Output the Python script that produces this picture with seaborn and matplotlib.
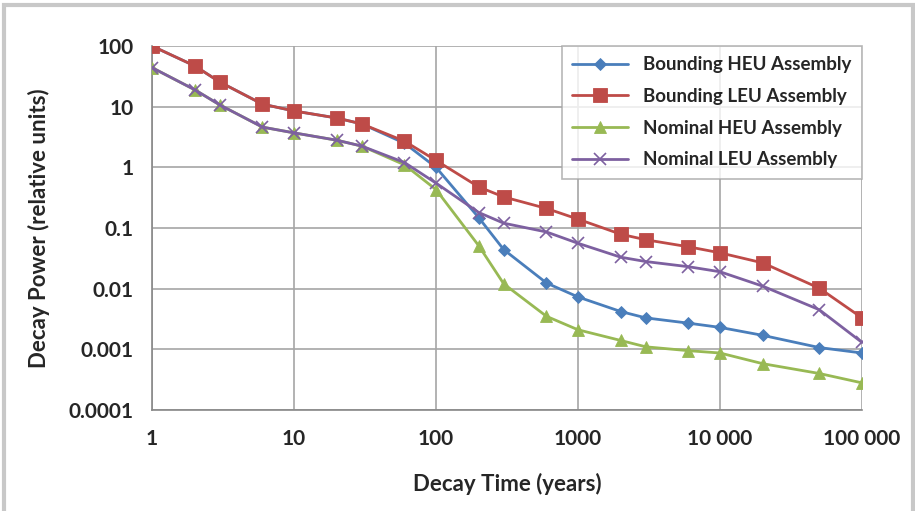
import pandas as pd
import matplotlib.pyplot as plt
import seaborn as sns
from matplotlib.patches import Rectangle

decay_years = [1, 2, 3, 6, 10, 20, 30, 60, 100, 200, 300, 600,
               1000, 2000, 3000, 6000, 10000, 20000, 50000, 100000]

bounding_heu = [100, 47, 25.5, 11, 8.5, 6.5, 5.2, 2.5, 1.0, 0.148, 0.044, 0.0124,
                0.0073, 0.0042, 0.0033, 0.0027, 0.0023, 0.0017, 0.00107, 0.00087]
bounding_leu = [100, 47, 25.5, 11, 8.5, 6.5, 5.2, 2.7, 1.3, 0.475, 0.325, 0.21,
                0.14, 0.079, 0.064, 0.049, 0.039, 0.0266, 0.0102, 0.0033]
nominal_heu = [44, 19, 10.7, 4.6, 3.7, 2.8, 2.24, 1.1, 0.43, 0.051, 0.012, 0.0035,
               0.0021, 0.0014, 0.0011, 0.00095, 0.00087, 0.00058, 0.0004, 0.00028]
nominal_leu = [44, 19, 10.7, 4.6, 3.7, 2.8, 2.24, 1.2, 0.55, 0.18, 0.12, 0.086,
               0.056, 0.033, 0.028, 0.023, 0.019, 0.011, 0.0045, 0.0013]

series_names = ["Bounding HEU Assembly", "Bounding LEU Assembly",
                "Nominal HEU Assembly", "Nominal LEU Assembly"]
series_values = [bounding_heu, bounding_leu, nominal_heu, nominal_leu]

y_ticks = [100, 10, 1, 0.1, 0.01, 0.001, 0.0001]
y_tick_labels = ["100", "10", "1", "0.1", "0.01", "0.001", "0.0001"]
x_ticks = [1, 10, 100, 1000, 10000, 100000]
x_tick_labels = ["1", "10", "100", "1000", "10 000", "100 000"]

rows = []
for name, vals in zip(series_names, series_values):
    for t, v in zip(decay_years, vals):
        rows.append({"Decay Time": t, "Decay Power": v, "Series": name})
df = pd.DataFrame(rows)

sns.set_style("white")
plt.rcParams["font.family"] = ["Lato", "DejaVu Sans"]

palette = {"Bounding HEU Assembly": "#4A7EBB", "Bounding LEU Assembly": "#BE4B48",
           "Nominal HEU Assembly": "#98B954", "Nominal LEU Assembly": "#7D60A0"}
markers = {"Bounding HEU Assembly": "D", "Bounding LEU Assembly": "s",
           "Nominal HEU Assembly": "^", "Nominal LEU Assembly": "x"}
msizes = {"Bounding HEU Assembly": 6, "Bounding LEU Assembly": 9.5,
          "Nominal HEU Assembly": 8, "Nominal LEU Assembly": 8}

fig = plt.figure(figsize=(9.15, 5.11), dpi=100)
ax = fig.add_axes([152 / 915, 1 - 410 / 511, 710 / 915, 364 / 511])

for name in series_names:
    sub = df[df["Series"] == name]
    sns.lineplot(data=sub, x="Decay Time", y="Decay Power", ax=ax,
                 color=palette[name], marker=markers[name], markersize=msizes[name],
                 markeredgecolor=palette[name],
                 markeredgewidth=1.2 if name.startswith("Nominal LEU") else 0.6,
                 linewidth=2, label=name, zorder=3)

ax.set_xscale("log")
ax.set_yscale("log")
ax.set_xlim(1, 100000)
ax.set_ylim(0.0001, 100)
ax.set_xticks(x_ticks)
ax.set_xticklabels(x_tick_labels)
ax.set_yticks(y_ticks)
ax.set_yticklabels(y_tick_labels)
ax.minorticks_off()
ax.tick_params(axis="x", length=0, labelsize=15, pad=14)
ax.tick_params(axis="y", length=0, labelsize=15, pad=13)
for lab in ax.get_xticklabels() + ax.get_yticklabels():
    lab.set_fontweight("bold")

ax.grid(True, color="#A6A6A6", linewidth=1.2)
for side in ["top", "right"]:
    ax.spines[side].set_visible(False)
for side in ["left", "bottom"]:
    ax.spines[side].set_color("#888888")
    ax.spines[side].set_linewidth(1.2)

ax.set_xlabel("Decay Time (years)", fontsize=16, fontweight="bold", labelpad=17)
ax.set_ylabel("Decay Power (relative units)", fontsize=16, fontweight="bold", labelpad=14)

leg = ax.legend(loc="upper right", bbox_to_anchor=(1.0, 1.0), frameon=True,
                fancybox=False, edgecolor="#A6A6A6",
                prop={"weight": "bold", "size": 13.5}, handlelength=3,
                handletextpad=0.8, borderpad=0.55, labelspacing=0.78, borderaxespad=0)
leg.get_frame().set_linewidth(1.2)

fig.patches.append(Rectangle((0.004, -0.01), 0.994, 1.0, transform=fig.transFigure,
                             fill=False, edgecolor="#C8C8C8", linewidth=3))

fig.savefig("out.png", dpi=100, facecolor="white")
